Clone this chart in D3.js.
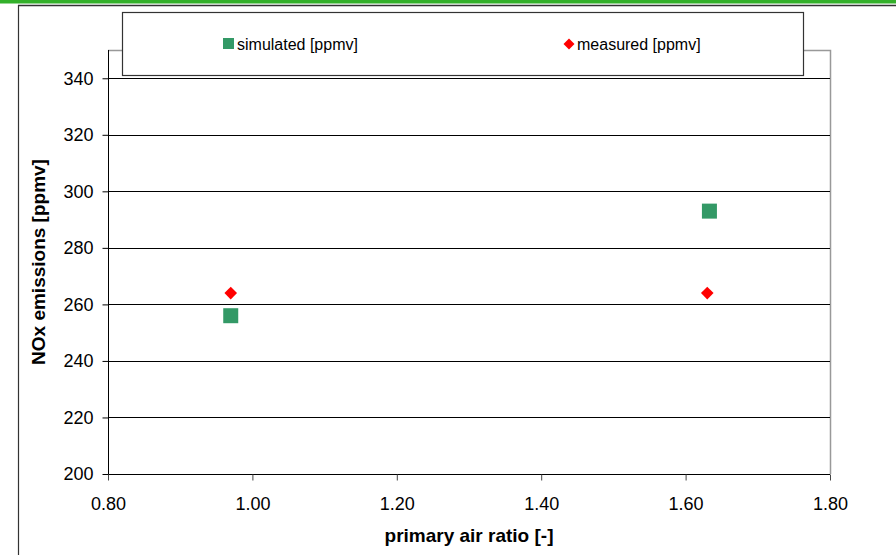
<!DOCTYPE html>
<html><head><meta charset="utf-8">
<script src="https://cdn.jsdelivr.net/npm/d3@7"></script>
<style>body{margin:0;background:#fff}svg{display:block;font-family:Arial,"Liberation Sans",sans-serif}</style>
</head><body><svg id="c" width="896" height="555"></svg>
<script>
const xTicks = [0.80, 1.00, 1.20, 1.40, 1.60, 1.80];
const yTicks = [200, 220, 240, 260, 280, 300, 320, 340];
const simulatedX = [0.97, 1.633];
const simulatedY = [256, 293];
const measuredX = [0.97, 1.63];
const measuredY = [264, 264];
const seriesNames = ["simulated [ppmv]", "measured [ppmv]"];
const seriesColors = ["#339966", "#ff0000"];

const FF = "Arial,'Liberation Sans',sans-serif";
const svg = d3.select("#c");
const L = 108, R = 830, T = 50, B = 474;
const x = d3.scaleLinear().domain([0.8, 1.8]).range([L, R]);
const y = d3.scaleLinear().domain([200, 350]).range([B, T]);

// top green strip and frame
svg.append("rect").attr("x", 0).attr("y", 0).attr("width", 896).attr("height", 3.5).attr("fill", "#33b02a");
svg.append("line").attr("x1", 18).attr("x2", 896).attr("y1", 5.5).attr("y2", 5.5).attr("stroke", "#333").attr("stroke-width", 1.5);
svg.append("line").attr("x1", 18.5).attr("x2", 18.5).attr("y1", 5).attr("y2", 555).attr("stroke", "#333").attr("stroke-width", 1.2);

// plot border (top, right gray)
svg.append("path").attr("d", `M${L},${T+0.5}H${R+0.5}V${B}`).attr("fill", "none").attr("stroke", "#999").attr("stroke-width", 1.5);

// gridlines
svg.append("g").selectAll("line").data(yTicks.filter(d => d > 200)).join("line")
  .attr("x1", L).attr("x2", R).attr("y1", d => Math.round(y(d)) + 0.5).attr("y2", d => Math.round(y(d)) + 0.5)
  .attr("stroke", "#000").attr("stroke-width", 1);

// axes
const yAxis = d3.axisLeft(y).tickValues(yTicks).tickSize(6).tickPadding(9).tickFormat(d3.format("d"));
const gy = svg.append("g").attr("transform", `translate(${L + 0.5},0)`).call(yAxis);
gy.select(".domain").attr("d", `M0,${T}V${B}`).attr("stroke", "#000");
gy.selectAll("text").attr("font-size", 18).attr("fill", "#000").attr("font-family", FF);

const xAxis = d3.axisBottom(x).tickValues(xTicks).tickSize(6).tickPadding(17).tickFormat(d3.format(".2f"));
const gx = svg.append("g").attr("transform", `translate(0,${B + 0.5})`).call(xAxis);
gx.select(".domain").attr("d", `M${L},0H${R}`).attr("stroke", "#000");
gx.selectAll(".tick line").attr("stroke", "#444");
gx.selectAll("text").attr("font-size", 18).attr("fill", "#000").attr("font-family", FF);

// axis titles
svg.append("text").attr("x", 469).attr("y", 542).attr("text-anchor", "middle").attr("font-family", FF)
  .attr("font-size", 19).attr("font-weight", "bold").text("primary air ratio [-]");
svg.append("text").attr("transform", "translate(45,262) rotate(-90)").attr("text-anchor", "middle").attr("font-family", FF)
  .attr("font-size", 19).attr("font-weight", "bold").text("NOx emissions [ppmv]");

// data
const sim = simulatedX.map((v, i) => [v, simulatedY[i]]);
const mea = measuredX.map((v, i) => [v, measuredY[i]]);
svg.append("g").selectAll("rect").data(sim).join("rect")
  .attr("x", d => x(d[0]) - 7.5).attr("y", d => y(d[1]) - 7.5).attr("width", 15).attr("height", 15)
  .attr("fill", seriesColors[0]);
const diamond = s => `M0,${-s}L${s},0L0,${s}L${-s},0Z`;
svg.append("g").selectAll("path").data(mea).join("path")
  .attr("transform", d => `translate(${x(d[0])},${y(d[1])})`).attr("d", diamond(6.3))
  .attr("fill", seriesColors[1]);

// legend
const lg = svg.append("g");
lg.append("rect").attr("x", 122.5).attr("y", 12.5).attr("width", 681).attr("height", 63)
  .attr("fill", "#fff").attr("stroke", "#333").attr("stroke-width", 1.2);
lg.append("rect").attr("x", 223).attr("y", 38).attr("width", 11).attr("height", 11).attr("fill", seriesColors[0]);
lg.append("text").attr("x", 237).attr("y", 50).attr("font-size", 16).attr("font-family", FF).text(seriesNames[0]);
lg.append("path").attr("transform", "translate(569,44)").attr("d", diamond(5.5)).attr("fill", seriesColors[1]);
lg.append("text").attr("x", 577).attr("y", 50).attr("font-size", 16).attr("font-family", FF).text(seriesNames[1]);
</script></body></html>
